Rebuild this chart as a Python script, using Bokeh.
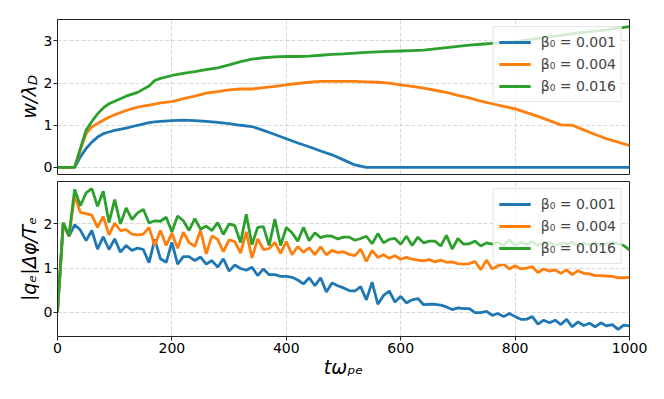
import math
from bokeh.plotting import figure
from bokeh.layouts import column, row
from bokeh.models import FixedTicker, Range1d
from bokeh.core.properties import value
from bokeh.embed import file_html
from bokeh.resources import INLINE

# ---------------- data ----------------
labels = ["β₀ = 0.001", "β₀ = 0.004", "β₀ = 0.016"]
colors = ["#1f77b4", "#ff7f0e", "#2ca02c"]

# top panel: w / lambda_D
t_w = [0, 10, 20, 30, 40, 50, 60, 70, 80, 90, 100, 120, 140, 160, 170, 180,
       200, 220, 240, 260, 280, 300, 320, 340, 360, 380, 400, 420, 440, 460,
       480, 500, 520, 540, 560, 580, 600, 620, 640, 660, 680, 700, 720, 740,
       760, 780, 800, 820, 840, 860, 880, 900, 920, 940, 960, 980, 1000]
w_001 = [0, 0, 0, 0, 0.25, 0.45, 0.60, 0.72, 0.80, 0.84, 0.88, 0.93, 1.00, 1.06, 1.08, 1.09,
         1.11, 1.12, 1.11, 1.09, 1.07, 1.04, 1.00, 0.97, 0.88, 0.78, 0.68, 0.58, 0.49, 0.39,
         0.30, 0.18, 0.06, 0, 0, 0, 0, 0, 0, 0, 0, 0, 0, 0,
         0, 0, 0, 0, 0, 0, 0, 0, 0, 0, 0, 0, 0]
w_004 = [0, 0, 0, 0, 0.42, 0.80, 0.96, 1.04, 1.12, 1.19, 1.25, 1.35, 1.43, 1.48, 1.50, 1.53,
         1.56, 1.63, 1.69, 1.76, 1.80, 1.84, 1.86, 1.86, 1.89, 1.92, 1.96, 1.99, 2.02, 2.04,
         2.04, 2.04, 2.04, 2.03, 2.02, 2.00, 1.96, 1.92, 1.88, 1.83, 1.78, 1.71, 1.65, 1.57,
         1.51, 1.45, 1.39, 1.30, 1.21, 1.11, 1.01, 1.00, 0.89, 0.78, 0.68, 0.60, 0.52]
w_016 = [0, 0, 0, 0, 0.45, 0.88, 1.09, 1.27, 1.41, 1.51, 1.57, 1.69, 1.78, 1.93, 2.06, 2.11,
         2.18, 2.23, 2.27, 2.32, 2.36, 2.43, 2.51, 2.57, 2.60, 2.62, 2.63, 2.63, 2.64, 2.66,
         2.68, 2.69, 2.71, 2.73, 2.74, 2.75, 2.76, 2.77, 2.78, 2.81, 2.84, 2.87, 2.90, 2.92,
         2.94, 2.96, 2.98, 3.02, 3.06, 3.10, 3.13, 3.17, 3.20, 3.23, 3.26, 3.30, 3.34]

# bottom panel: |q_e| dphi / T_e  (sampled every 10)
t_phi = list(range(0, 1001, 10))
phi_001 = [0, 2.00, 1.72, 1.98, 1.86, 1.62, 1.85, 1.43, 1.71, 1.42,
           1.66, 1.36, 1.51, 1.40, 1.45, 1.42, 1.12, 1.65, 1.21, 1.13,
           1.58, 1.09, 1.26, 1.26, 1.17, 1.25, 1.09, 1.17, 1.02, 1.21,
           0.93, 1.07, 0.99, 0.95, 1.02, 0.83, 0.98, 0.85, 0.85, 0.81,
           0.81, 0.79, 0.73, 0.64, 0.78, 0.60, 0.78, 0.46, 0.66, 0.60,
           0.55, 0.49, 0.48, 0.58, 0.28, 0.68, 0.18, 0.38, 0.48, 0.23,
           0.36, 0.21, 0.28, 0.31, 0.17, 0.18, 0.18, 0.16, 0.12, 0.06,
           0.10, 0.08, 0.08, -0.01, -0.01, 0.02, -0.07, -0.03, -0.10, -0.03,
           -0.10, -0.16, -0.16, -0.10, -0.27, -0.18, -0.24, -0.18, -0.28, -0.16,
           -0.33, -0.22, -0.30, -0.25, -0.33, -0.24, -0.31, -0.28, -0.39, -0.29,
           -0.31]
phi_004 = [0, 2.00, 1.72, 2.64, 2.26, 2.23, 2.20, 1.92, 2.17, 1.75,
           2.02, 1.85, 1.87, 1.77, 1.75, 1.77, 1.92, 1.51, 1.85, 1.51,
           1.79, 1.45, 1.81, 1.58, 1.49, 1.85, 1.32, 1.73, 1.65, 1.37,
           1.64, 1.60, 1.34, 1.82, 1.23, 1.66, 1.42, 1.44, 1.58, 1.33,
           1.60, 1.30, 1.49, 1.36, 1.46, 1.30, 1.48, 1.30, 1.40, 1.35,
           1.37, 1.31, 1.28, 1.43, 1.15, 1.40, 1.24, 1.30, 1.22, 1.28,
           1.20, 1.24, 1.20, 1.18, 1.16, 1.19, 1.14, 1.18, 1.13, 1.14,
           1.10, 1.09, 1.10, 1.15, 0.96, 1.18, 0.98, 1.05, 1.09, 0.98,
           1.05, 0.98, 1.00, 1.03, 0.90, 0.98, 0.93, 0.96, 0.88, 0.96,
           0.85, 0.94, 0.88, 0.87, 0.83, 0.83, 0.82, 0.81, 0.78, 0.78,
           0.79]
phi_016 = [0, 2.03, 1.73, 2.78, 2.41, 2.70, 2.80, 2.40, 2.74, 2.03,
           2.55, 2.00, 2.36, 2.10, 2.25, 2.33, 2.02, 2.07, 2.06, 2.15,
           1.82, 2.18, 2.07, 1.85, 2.12, 1.88, 1.95, 1.85, 2.03, 1.76,
           2.00, 1.96, 1.58, 2.22, 1.53, 1.92, 1.94, 1.51, 2.11, 1.51,
           1.92, 1.80, 1.61, 1.92, 1.62, 1.80, 1.69, 1.73, 1.72, 1.66,
           1.70, 1.70, 1.63, 1.67, 1.72, 1.55, 1.78, 1.57, 1.65, 1.67,
           1.54, 1.72, 1.51, 1.70, 1.57, 1.61, 1.61, 1.50, 1.74, 1.43,
           1.67, 1.54, 1.55, 1.61, 1.50, 1.57, 1.54, 1.58, 1.51, 1.64,
           1.51, 1.58, 1.53, 1.60, 1.51, 1.58, 1.58, 1.51, 1.56, 1.55,
           1.58, 1.49, 1.56, 1.53, 1.58, 1.51, 1.55, 1.58, 1.55, 1.51,
           1.41]

x_ticks = [0, 200, 400, 600, 800, 1000]
w_ticks = [0, 1, 2, 3]
phi_ticks = [0, 1, 2]

FONT = "DejaVu Sans"
H1, H2, LW = 177, 222, 39


def style(p, yticks):
    p.outline_line_color = "#222222"
    p.outline_line_width = 1
    p.background_fill_color = "white"
    p.border_fill_color = "white"
    p.xaxis.ticker = FixedTicker(ticks=x_ticks)
    p.yaxis.ticker = FixedTicker(ticks=yticks)
    for ax in (p.xaxis[0], p.yaxis[0]):
        ax.axis_line_color = "#222222"
        ax.major_tick_line_color = "#222222"
        ax.major_tick_out = 4
        ax.major_tick_in = 0
        ax.minor_tick_line_color = None
        ax.major_label_text_font = FONT
        ax.major_label_text_font_size = "14px"
        ax.major_label_text_color = "black"
        ax.major_label_standoff = 1
        ax.axis_label_text_font = FONT
        ax.axis_label_text_font_style = "italic"
        ax.axis_label_text_font_size = "19px"
        ax.axis_label_text_color = "black"
    p.grid.grid_line_color = "#b0b0b0"
    p.grid.grid_line_alpha = 0.6
    p.grid.grid_line_dash = "4 2"
    p.grid.grid_line_width = 0.8


def legend_style(p):
    p.legend.location = "top_right"
    p.legend.margin = 7
    p.legend.padding = 5
    p.legend.spacing = 2
    p.legend.glyph_width = 32
    p.legend.glyph_height = 20
    p.legend.label_height = 20
    p.legend.label_standoff = 10
    p.legend.label_text_font = FONT
    p.legend.label_text_font_size = "14px"
    p.legend.border_line_color = "#cccccc"
    p.legend.border_line_width = 1
    p.legend.background_fill_alpha = 0.8


# ---------------- top panel ----------------
p1 = figure(width=664 - LW, height=H1, x_range=Range1d(0, 1000), y_range=Range1d(-0.167, 3.507),
            output_backend="svg", toolbar_location=None,
            min_border_left=18, min_border_right=35, min_border_top=19, min_border_bottom=3)
for ys, c, lab in zip([w_001, w_004, w_016], colors, labels):
    p1.line(t_w, ys, line_color=c, line_width=2.8, legend_label=lab)
style(p1, w_ticks)
p1.xaxis.visible = False
legend_style(p1)

# ---------------- bottom panel ----------------
p2 = figure(width=664 - LW, height=H2, x_range=p1.x_range, y_range=Range1d(-0.55, 2.96),
            output_backend="svg", toolbar_location=None,
            min_border_left=18, min_border_right=35, min_border_top=4, min_border_bottom=63)
for ys, c, lab in zip([phi_001, phi_004, phi_016], colors, labels):
    p2.line(t_phi, ys, line_color=c, line_width=2.8, legend_label=lab)
style(p2, phi_ticks)
p2.xaxis.axis_label = "tωₚₑ"
p2.xaxis.major_label_standoff = 2
p2.xaxis.axis_label_standoff = 0
legend_style(p2)

# ---------------- y-axis titles (strip on the left) ----------------
HT = H1 + H2
pl = figure(width=LW, height=HT, x_range=Range1d(0, LW), y_range=Range1d(0, HT),
            output_backend="svg", toolbar_location=None, min_border=0)
pl.axis.visible = False
pl.grid.visible = False
pl.outline_line_color = None
pl.border_fill_color = "white"
# "w/λ" + subscript "D"
pl.text(x=[28], y=[HT - 118], text=["w/λ"], angle=math.pi / 2,
        text_font=value(FONT), text_font_style="italic", text_font_size="19px",
        text_align="left", text_baseline="alphabetic", text_color="black")
pl.text(x=[32], y=[HT - 84.5], text=["D"], angle=math.pi / 2,
        text_font=value(FONT), text_font_style="italic", text_font_size="13px",
        text_align="left", text_baseline="alphabetic", text_color="black")
pl.text(x=[28], y=[HT - 258.5], text=["|qₑ|Δφ/Tₑ"], angle=math.pi / 2,
        text_font=value(FONT), text_font_style="italic", text_font_size="19px",
        text_align="center", text_baseline="alphabetic", text_color="black")

layout = row(pl, column(p1, p2, spacing=0), spacing=0)
open("out.html", "w").write(file_html(layout, INLINE))
